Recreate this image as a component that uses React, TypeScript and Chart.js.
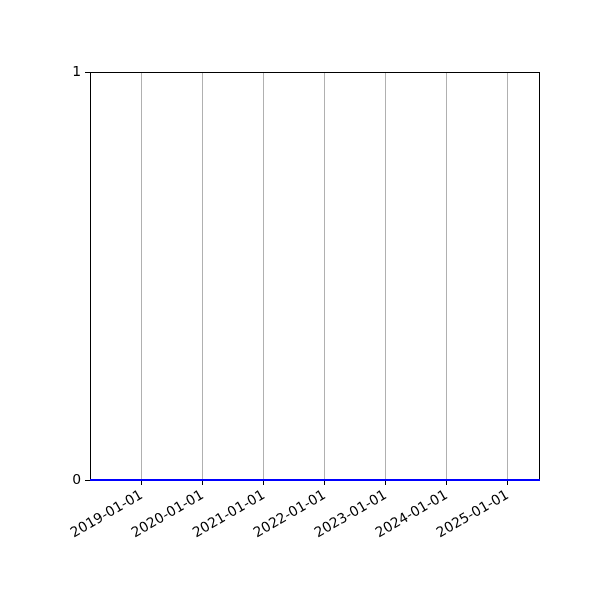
import React, { useEffect, useRef } from "react";
import { Chart, registerables } from "chart.js";

Chart.register(...registerables);

const seriesDates = ["2018-02-24", "2025-07-12"];
const seriesValues = [0, 0];
const xTickYears = [2019, 2020, 2021, 2022, 2023, 2024, 2025];
const yTickValues = [0, 1];
const xMinDate = "2018-02-24";
const xMaxDate = "2025-07-12";

const toTs = (d: string) => Date.parse(d + "T00:00:00Z");

const spinesPlugin = {
  id: "spines",
  beforeDatasetsDraw(chart: any) {
    const { ctx, chartArea } = chart;
    ctx.save();
    ctx.strokeStyle = "#000";
    ctx.lineWidth = 1;
    const l = Math.round(chartArea.left) + 0.5;
    const t = Math.round(chartArea.top) + 0.5;
    const r = Math.round(chartArea.right) - 0.5;
    const b = Math.round(chartArea.bottom) - 0.5;
    ctx.strokeRect(l, t, r - l, b - t);
    ctx.restore();
  },
};

export default function App() {
  const ref = useRef<HTMLCanvasElement | null>(null);
  useEffect(() => {
    if (!ref.current) return;
    const font = { family: "DejaVu Sans", size: 13.9 };
    const chart = new Chart(ref.current, {
      type: "line",
      data: {
        datasets: [
          {
            data: seriesDates.map((d, i) => ({ x: toTs(d), y: seriesValues[i] })),
            borderColor: "#0000ff",
            borderWidth: 2,
            pointRadius: 0,
            fill: false,
            clip: false as any,
          },
        ],
      },
      options: {
        animation: false,
        responsive: false,
        maintainAspectRatio: false,
        devicePixelRatio: 1,
        layout: { padding: { top: 72, right: 60, left: 0, bottom: 0 } },
        plugins: { legend: { display: false }, tooltip: { enabled: false } },
        scales: {
          x: {
            type: "linear",
            min: toTs(xMinDate),
            max: toTs(xMaxDate),
            afterBuildTicks: (scale: any) => {
              scale.ticks = xTickYears.map((y) => ({ value: Date.UTC(y, 0, 1) }));
            },
            afterFit: (scale: any) => {
              scale.height = 120;
              scale.paddingLeft = 0;
              scale.paddingRight = 0;
            },
            ticks: {
              color: "#000",
              font,
              minRotation: 30,
              maxRotation: 30,
              padding: 2,
              autoSkip: false,
              callback: (v: any) => new Date(Number(v)).toISOString().slice(0, 10),
            },
            grid: {
              color: "#b0b0b0",
              lineWidth: 1,
              tickColor: "#000",
              tickLength: 5,
              drawOnChartArea: true,
            },
            border: { display: false },
          },
          y: {
            type: "linear",
            min: 0,
            max: 1,
            afterBuildTicks: (scale: any) => {
              scale.ticks = yTickValues.map((v) => ({ value: v }));
            },
            afterFit: (scale: any) => {
              scale.width = 90;
              scale.paddingTop = 0;
              scale.paddingBottom = 0;
            },
            ticks: { color: "#000", font, padding: 4 },
            grid: { drawOnChartArea: false, tickColor: "#000", tickLength: 5 },
            border: { display: false },
          },
        },
      },
      plugins: [spinesPlugin],
    } as any);
    return () => chart.destroy();
  }, []);
  return (
    <div style={{ position: "fixed", left: 0, top: 0, width: 600, height: 600, background: "#fff" }}>
      <canvas ref={ref} width={600} height={600} style={{ width: 600, height: 600, display: "block" }} />
    </div>
  );
}
